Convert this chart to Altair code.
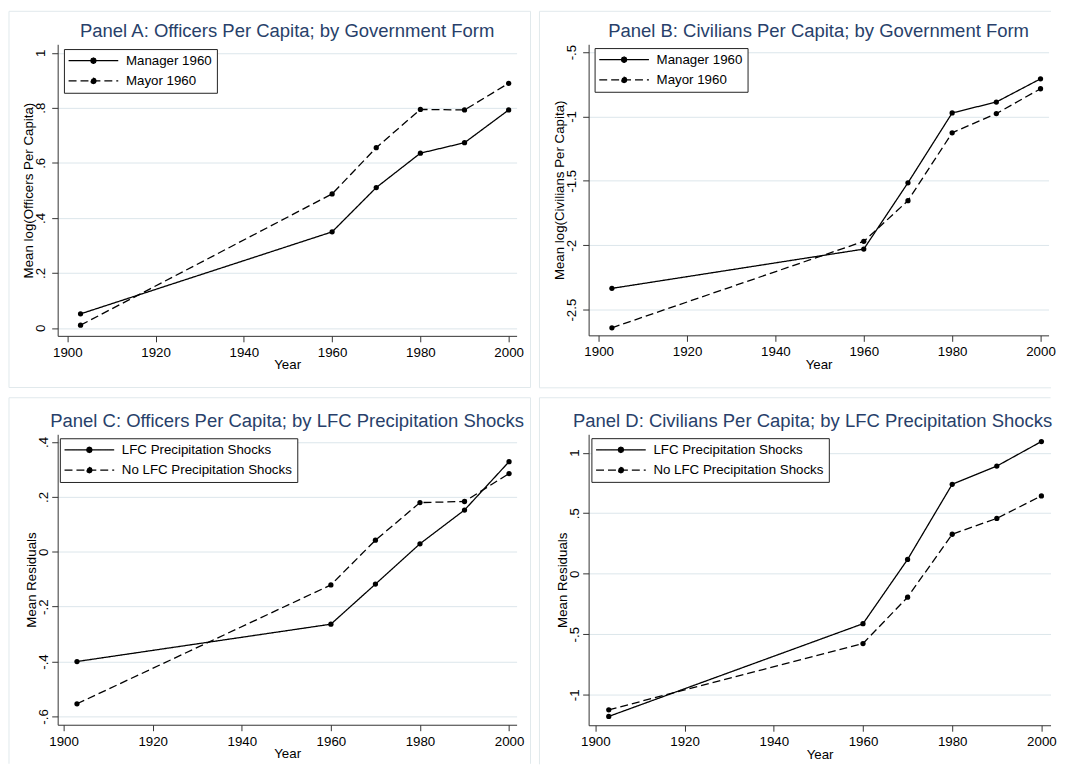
import altair as alt
import pandas as pd

# ---------------- data ----------------
years = [1903, 1960, 1970, 1980, 1990, 2000]

a_names = ["Manager 1960", "Mayor 1960"]
a_manager = [0.051, 0.349, 0.510, 0.635, 0.673, 0.792]
a_mayor = [0.010, 0.487, 0.655, 0.794, 0.792, 0.889]

b_names = ["Manager 1960", "Mayor 1960"]
b_manager = [-2.335, -2.030, -1.515, -0.973, -0.888, -0.708]
b_mayor = [-2.641, -1.970, -1.654, -1.127, -0.978, -0.785]

c_names = ["LFC Precipitation Shocks", "No LFC Precipitation Shocks"]
c_lfc = [-0.400, -0.264, -0.118, 0.029, 0.152, 0.328]
c_nolfc = [-0.554, -0.121, 0.042, 0.179, 0.183, 0.285]

d_names = ["LFC Precipitation Shocks", "No LFC Precipitation Shocks"]
d_lfc = [-1.179, -0.413, 0.118, 0.739, 0.889, 1.092]
d_nolfc = [-1.124, -0.577, -0.194, 0.326, 0.457, 0.643]

x_ticks = [1900, 1920, 1940, 1960, 1980, 2000]
a_yticks = [0, 0.2, 0.4, 0.6, 0.8, 1]
b_yticks = [-2.5, -2, -1.5, -1, -0.5]
c_yticks = [-0.6, -0.4, -0.2, 0, 0.2, 0.4]
d_yticks = [-1, -0.5, 0, 0.5, 1]

titles = [
    "Panel A: Officers Per Capita; by Government Form",
    "Panel B: Civilians Per Capita; by Government Form",
    "Panel C: Officers Per Capita; by LFC Precipitation Shocks",
    "Panel D: Civilians Per Capita; by LFC Precipitation Shocks",
]
y_titles = [
    "Mean log(Officers Per Capita)",
    "Mean log(Civilians Per Capita)",
    "Mean Residuals",
    "Mean Residuals",
]

# ---------------- style ----------------
FONT = "Liberation Sans"
TITLE_COLOR = "#283f6a"
GRID = "#dce6eb"
FRAME = "#e1e9ec"
AXIS = "#333333"

LABEL_EXPR = ("(datum.value < 0 ? '-' : '') + "
              "replace(format(abs(datum.value), '~g'), '0.', '.')")
DOT = ("M0.55,0L0.39,0.39L0,0.55L-0.39,0.39L-0.55,0"
       "L-0.39,-0.39L0,-0.55L0.39,-0.39Z")
SYMBOL = "M-5,0H5" + DOT


def long_df(names, s1, s2):
    rows = []
    for name, vals in zip(names, [s1, s2]):
        for yr, v in zip(years, vals):
            rows.append({"Year": yr, "value": v, "series": name})
    return pd.DataFrame(rows)


def frame_rules(edges):
    one = alt.Data(values=[{}])
    out = []
    for kind, a, b, c in edges:
        if kind == "v":
            enc = dict(x=alt.value(a), y=alt.value(b), y2=alt.value(c))
        else:
            enc = dict(y=alt.value(a), x=alt.value(b), x2=alt.value(c))
        out.append(alt.Chart(one).mark_rule(color=FRAME, strokeWidth=1).encode(**enc))
    return out


def panel(idx, names, s1, s2, xdom, ydom, yticks, w, h, title_x, label_pad,
          legend_xy, edges, title_dx=0):
    df = long_df(names, s1, s2)
    x = alt.X(
        "Year:Q",
        scale=alt.Scale(domain=xdom, nice=False, zero=False),
        axis=alt.Axis(values=x_ticks, format="d", title="Year",
                      labelBaseline="alphabetic", labelPadding=14.5,
                      titleBaseline="alphabetic", titleY=33, grid=False),
    )
    y = alt.Y(
        "value:Q",
        scale=alt.Scale(domain=ydom, nice=False, zero=False),
        axis=alt.Axis(values=yticks, labelExpr=LABEL_EXPR, labelAngle=270,
                      labelAlign="center", labelBaseline="alphabetic",
                      labelPadding=label_pad, grid=True, gridColor=GRID,
                      gridWidth=1, title=y_titles[idx], titleAngle=270,
                      titleAlign="center", titleBaseline="alphabetic",
                      titleX=title_x),
    )
    lines = alt.Chart(df).mark_line(color="black", strokeWidth=1.3).encode(
        x=x, y=y,
        strokeDash=alt.StrokeDash(
            "series:N",
            scale=alt.Scale(domain=names, range=[[1, 0], [8, 4]]),
            legend=alt.Legend(
                orient="none", legendX=legend_xy[0], legendY=legend_xy[1],
                title=None, symbolType=SYMBOL, symbolSize=100,
                symbolStrokeWidth=1.2, symbolStrokeColor="black",
                symbolFillColor="black", symbolOffset=18, labelOffset=26,
                labelFont=FONT, labelFontSize=13.4, labelColor="black",
                labelLimit=400, padding=5, rowPadding=5.4,
                strokeColor="#222222", fillColor="white", cornerRadius=0,
            ),
        ),
    )
    points = alt.Chart(df).mark_point(
        filled=True, size=28, color="black", opacity=1
    ).encode(x=x, y=y)
    title = alt.Chart(alt.Data(values=[{"t": titles[idx]}])).mark_text(
        font=FONT, fontSize=18.6, color=TITLE_COLOR, align="center",
        baseline="alphabetic",
    ).encode(text="t:N", x=alt.value(w / 2 + title_dx), y=alt.value(-7.2))
    layers = frame_rules(edges) + [lines, points, title]
    return alt.layer(*layers).properties(width=w, height=h)


pA = panel(0, a_names, a_manager, a_mayor, [1897.817, 2001.80], [-0.02888, 1.03069],
           a_yticks, 462, 293.5, -25, 7, (6.3, 4.8),
           [("v", -49, -33.2, 345.5), ("v", 476, -33.2, 345.5),
            ("h", -33.2, -49, 476), ("h", 345.5, -49, 476)])
pB = panel(1, b_names, b_manager, b_mayor, [1897.729, 2001.82], [-2.69977, -0.43984],
           b_yticks, 463, 293, -25, 7, (6, 3.8),
           [("v", -49.5, -33.2, 345.8), ("h", -33.2, -49.5, 465.5),
            ("h", 345.8, -49.5, 465.5)])
pC = panel(2, c_names, c_lfc, c_nolfc, [1898.662, 2001.695], [-0.6304, 0.42787],
           c_yticks, 462, 292.4, -22, 4.5, (2.2, 4.0),
           [("v", -49, -36.8, 331.7), ("v", 476, -36.8, 331.7),
            ("h", -36.8, -49, 476)])
pD = panel(3, d_names, d_lfc, d_nolfc, [1898.486, 2002.049], [-1.25195, 1.15183],
           d_yticks, 465, 292.9, -22, 4.5, (2.8, 3.9),
           [("v", -49.5, -36.8, 332.2), ("h", -36.8, -49.5, 465)],
           title_dx=-7)

chart = alt.ConcatChart(
    concat=[pA, pB, pC, pD], columns=2,
    spacing={"row": 98.6, "column": 72.5},
    bounds="flush", align="none",
).resolve_scale(
    x="independent", y="independent", strokeDash="independent"
).resolve_legend(
    strokeDash="independent"
).properties(
    padding=0, background="white"
).configure_view(
    strokeWidth=0
).configure_axis(
    labelFont=FONT, titleFont=FONT, labelColor="black", titleColor="black",
    domainColor=AXIS, tickColor=AXIS, domainWidth=1, tickWidth=1,
    labelFontSize=13.4, titleFontSize=13.4, titleFontWeight="normal",
    tickSize=6, labelFlush=False, labelOverlap=False,
).configure_legend(
    symbolBaseFillColor="black", symbolBaseStrokeColor="black",
)

chart.save("out.html", embed_options={"renderer": "svg", "actions": False})
